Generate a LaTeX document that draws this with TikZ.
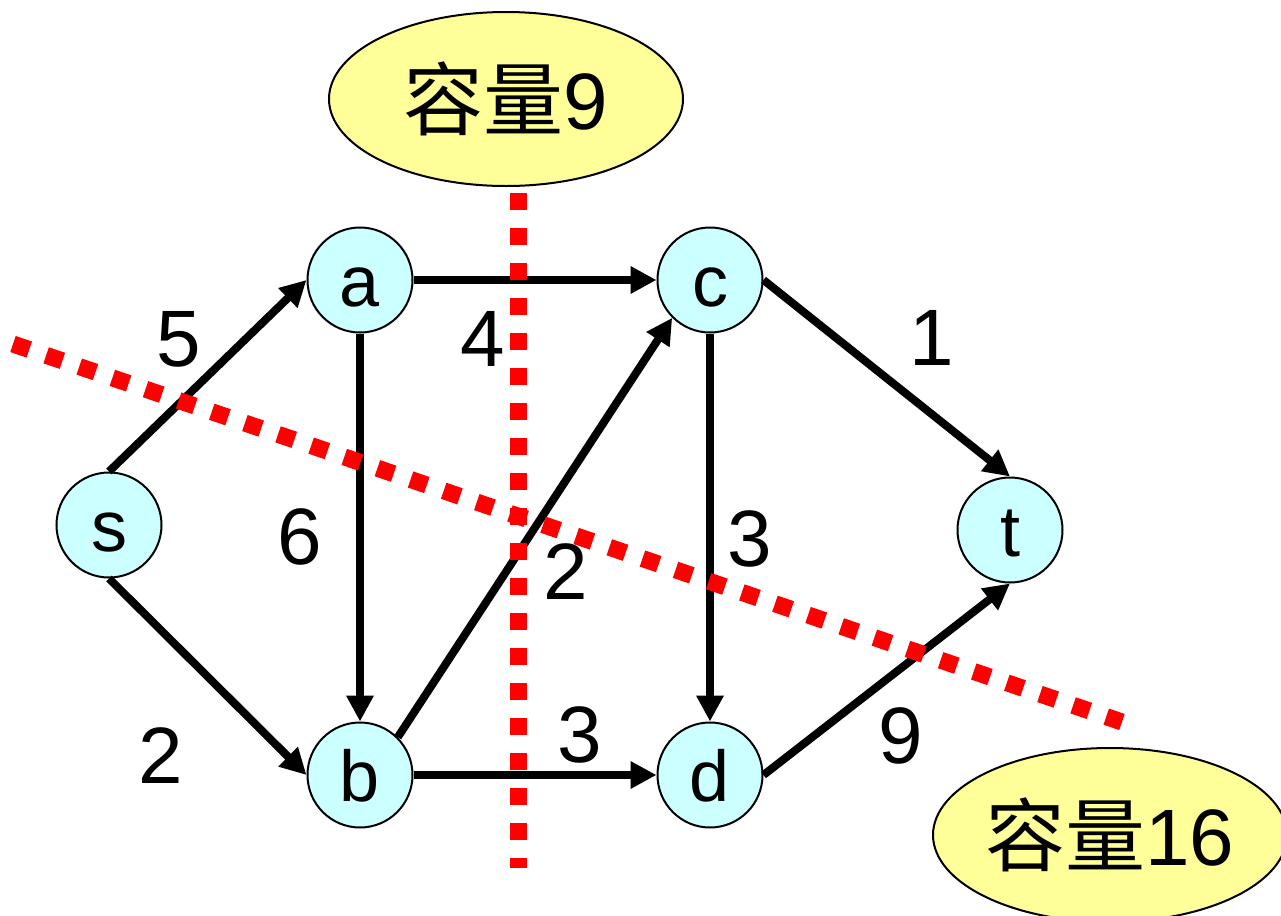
\documentclass[tikz,border=0pt]{standalone}
\usepackage{fontspec}
\setmainfont{Liberation Sans}
\newfontfamily\cjk{Noto Sans CJK SC}
\usetikzlibrary{arrows.meta,shapes.geometric}
\definecolor{nodefill}{HTML}{CCFFFF}
\definecolor{notefill}{HTML}{FFFF99}
\definecolor{cutred}{HTML}{FF0000}
\begin{document}
\begin{tikzpicture}[x=0.5pt,y=-0.5pt,
  vertex/.style={circle,draw=black,line width=1pt,fill=nodefill,minimum size=52.5pt,inner sep=0pt,
    font=\fontsize{36}{40}\selectfont,text height=26pt,text depth=0pt},
  edge/.style={line width=4pt,-{Triangle[length=13pt,width=13pt]}},
  weight/.style={font=\fontsize{40}{44}\selectfont,inner sep=0pt},
  note/.style={ellipse,draw=black,line width=1pt,fill=notefill,minimum width=177pt,minimum height=87pt,
    inner sep=0pt,font=\fontsize{40}{44}\selectfont},
  cut/.style={draw=cutred,line width=8.5pt,dash pattern=on 8.6pt off 8.9pt}]
\useasboundingbox (0,0) rectangle (1281,916);
% vertices
\node[vertex] (s) at (109,525) {s};
\node[vertex] (a) at (360,280) {a};
\node[vertex] (b) at (360,775) {b};
\node[vertex] (c) at (710,280) {c};
\node[vertex] (d) at (710,775) {d};
\node[vertex] (t) at (1010,530) {t};
% notes
\node[note] (n9) at (506,99) {{\cjk 容量}9};
\node[note] (n16) at (1110,835) {{\cjk 容量}16};
% edges
\draw[edge] (s.north) -- (a.west);
\draw[edge] (s.south) -- (b.west);
\draw[edge] (a.east) -- (c.west);
\draw[edge] (a.south) -- (b.north);
\draw[edge] (b.north east) -- (c.south west);
\draw[edge] (c.east) -- (t.north);
\draw[edge] (c.south) -- (d.north);
\draw[edge] (b.east) -- (d.west);
\draw[edge] (d.east) -- (t.south);
% weights
\node[weight] (w1) at (179,339) {5};
\node[weight] (w2) at (483,339) {4};
\node[weight] (w3) at (932,338) {1};
\node[weight] (w4) at (300,537) {6};
\node[weight] (w5) at (566,572) {2};
\node[weight] (w6) at (750,539) {3};
\node[weight] (w7) at (161,756) {2};
\node[weight] (w8) at (580,735) {3};
\node[weight] (w9) at (901,736) {9};
% cuts
\coordinate (v1) at (518,193);
\coordinate (v2) at (518,868);
\coordinate (g1) at (13,344);
\coordinate (g2) at (1122,722);
\draw[cut] (v1) -- (v2);
\draw[cut] (g1) -- (g2);
\end{tikzpicture}
\end{document}
